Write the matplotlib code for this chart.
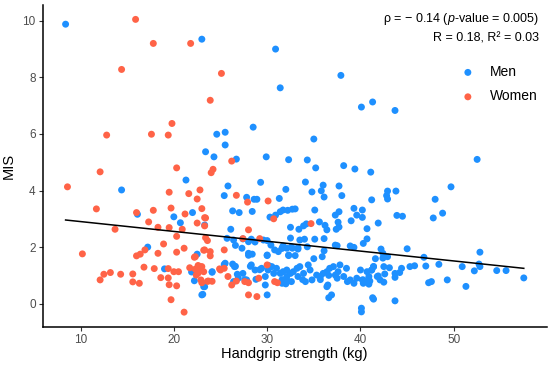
import numpy as np
import matplotlib
matplotlib.use("Agg")
import matplotlib.pyplot as plt

plt.rcParams['font.family'] = ['Liberation Sans', 'DejaVu Sans']
plt.rcParams['mathtext.fontset'] = 'custom'
plt.rcParams['mathtext.rm'] = 'Liberation Sans'
plt.rcParams['mathtext.it'] = 'Liberation Sans:italic'

# men: (handgrip kg, MIS)
men = [
    (8.4, 9.88), (23.0, 9.35), (30.9, 9.0), (37.9, 8.07), (31.4, 7.63), (40.1, 6.95), (41.3, 7.13), (43.7, 6.83),
    (24.6, 5.99), (23.4, 5.37), (24.3, 5.19), (28.5, 6.24), (25.5, 6.06), (25.5, 5.61), (35.0, 5.82), (26.7, 5.11),
    (29.9, 5.19), (32.3, 5.09), (34.3, 5.08), (35.2, 4.80), (38.2, 4.88), (39.4, 4.76),
    (52.5, 5.10), (41.1, 4.65), (49.7, 4.13), (42.9, 3.98), (43.8, 3.98), (42.8, 3.82), (42.9, 3.70), (41.2, 3.67),
    (48.0, 3.69), (40.2, 3.31), (40.2, 3.05), (43.9, 3.12), (44.5, 3.09), (48.8, 3.20), (47.8, 3.03), (41.9, 2.85),
    (40.7, 2.65), (40.7, 2.29), (40.3, 2.13), (45.0, 1.94), (42.2, 1.93), (42.4, 1.78), (42.9, 1.66), (41.6, 1.59),
    (42.4, 1.61), (46.8, 1.64), (52.8, 1.82), (52.7, 1.40), (52.8, 1.31), (52.2, 1.16), (54.6, 1.17), (55.6, 1.17),
    (57.5, 0.91),
    (40.7, 1.13), (41.4, 1.31), (41.2, 1.19), (42.5, 1.31), (43.1, 1.27), (42.6, 1.05), (43.7, 1.07), (43.7, 0.93),
    (44.2, 1.10), (44.4, 1.25), (45.3, 1.31), (45.8, 1.34), (47.0, 1.33), (48.4, 1.39), (50.9, 1.31), (40.2, 0.84),
    (40.5, 0.78), (41.0, 0.80), (40.3, 0.72), (40.9, 0.69), (41.9, 0.98), (42.1, 0.84), (42.5, 0.76), (47.3, 0.74),
    (47.6, 0.78), (49.3, 0.84), (51.3, 0.61), (41.3, 0.21), (41.4, 0.16), (43.7, 0.10), (40.1, -0.29),
    (14.4, 4.02), (21.3, 4.37), (16.1, 3.16), (20.0, 3.07), (22.0, 3.22), (20.7, 2.86), (23.3, 2.78), (17.2, 2.00),
    (22.5, 1.75), (19.0, 1.23), (21.9, 1.12), (24.1, 1.11), (22.2, 0.81), (23.3, 0.60), (23.1, 0.33),
    (29.3, 4.29), (34.1, 4.30), (25.8, 4.16), (32.0, 4.04), (34.8, 3.95), (35.8, 3.99), (36.0, 4.19), (37.7, 4.16),
    (38.0, 3.82), (36.1, 3.77), (25.4, 3.82), (27.8, 3.76), (28.6, 3.69), (28.9, 3.69), (31.3, 3.72),
    (26.3, 3.28), (27.0, 3.22), (28.4, 3.26), (30.3, 3.06), (30.9, 3.13), (31.4, 3.25), (31.7, 3.31), (32.2, 3.30),
    (32.7, 3.34), (33.0, 3.35), (35.1, 3.31), (37.3, 3.13), (37.7, 3.25), (39.3, 3.37), (39.6, 3.13),
    (32.5, 2.70), (33.4, 2.63), (33.9, 2.75), (34.2, 2.82), (35.6, 2.89), (36.2, 2.77), (36.4, 2.61), (37.4, 2.63),
    (37.6, 2.88), (37.7, 2.71), (39.0, 2.93), (26.1, 2.63),
    (25.7, 2.31), (26.4, 2.25), (26.6, 2.06), (27.4, 2.29), (28.0, 2.19), (28.3, 2.28), (28.7, 2.18), (29.6, 2.25),
    (30.0, 2.23), (30.4, 2.07), (32.5, 2.32), (33.5, 2.25), (34.0, 2.28), (32.7, 1.96), (33.3, 1.93), (31.7, 2.04),
    (31.2, 1.84), (31.6, 1.96), (34.3, 2.01), (35.1, 2.28), (36.1, 2.30), (36.1, 1.87), (35.9, 1.66), (37.5, 2.05),
    (38.9, 2.04), (39.3, 1.99),
    (28.0, 1.71), (28.4, 1.75), (30.0, 1.70), (32.3, 1.70), (33.0, 1.70), (35.0, 1.59),
    (27.3, 1.96), (28.0, 1.78), (30.0, 1.72), (30.8, 1.90), (31.6, 1.96), (24.1, 1.13), (25.5, 1.43), (26.5, 1.31),
    (26.9, 0.90), (27.4, 1.07), (27.8, 0.84), (28.3, 1.37), (28.7, 1.19), (29.4, 1.25), (29.8, 0.96), (30.1, 1.19),
    (30.5, 1.31), (31.0, 1.25), (31.4, 1.07), (31.7, 1.13), (32.1, 0.96), (29.8, 0.66), (31.6, 0.72), (23.2, 0.60),
    (23.0, 0.31), (30.0, 0.31),
    (32.1, 1.96), (32.6, 2.01), (33.3, 1.98), (32.3, 1.72), (37.3, 2.07),
    (32.1, 1.19), (32.5, 1.07), (32.8, 1.13), (33.2, 1.25), (33.5, 1.31), (33.3, 0.96), (33.9, 1.07), (34.1, 0.78),
    (34.4, 1.37), (34.6, 1.19), (34.8, 0.84), (35.3, 1.01), (35.7, 0.96), (36.0, 1.07), (36.4, 1.13), (36.7, 1.25),
    (37.1, 1.31), (37.3, 1.01), (37.5, 0.90), (37.8, 1.37), (37.6, 1.13), (38.2, 0.96), (38.5, 1.25), (38.9, 0.84),
    (39.3, 0.72), (39.6, 0.90), (40.0, 1.19), (40.3, 0.84), (40.5, 0.78), (40.9, 0.96), (41.2, 1.19), (41.4, 1.31),
    (41.8, 0.96), (32.1, 0.84), (32.6, 0.78), (36.4, 0.60), (36.9, 0.31), (36.6, 0.21), (40.1, -0.16),
    (25.4, 1.39), (26.3, 1.40), (26.6, 1.32), (26.8, 1.04), (26.4, 0.78), (27.6, 0.85), (28.2, 1.32), (28.8, 0.86),
    (29.2, 1.20), (30.2, 1.34), (30.7, 1.07), (31.6, 0.85), (32.0, 0.70), (33.8, 0.85), (35.7, 0.85), (36.6, 1.00),
    (38.6, 0.78), (36.5, 0.66),
]

women = [
    (15.9, 10.05), (17.8, 9.20), (21.8, 9.20), (14.4, 8.28), (25.1, 8.14), (23.9, 7.19), (19.8, 6.37), (12.8, 5.96),
    (17.6, 5.99), (19.4, 5.96),
    (26.2, 5.04), (20.3, 4.80), (12.1, 4.66), (24.2, 4.75), (24.0, 4.63), (8.6, 4.13), (19.5, 3.94), (21.6, 3.89),
    (22.8, 4.02), (22.5, 3.70),
    (11.7, 3.35), (16.0, 3.22), (17.8, 3.30), (19.7, 3.38), (21.2, 3.17), (23.0, 3.36), (23.4, 3.03), (17.3, 2.89),
    (22.5, 2.85), (18.3, 2.70),
    (19.5, 2.69), (20.9, 2.63), (13.7, 2.63), (20.3, 2.38), (23.4, 2.33), (23.6, 2.23), (18.9, 2.11), (21.1, 1.96),
    (16.9, 1.90), (16.4, 1.75),
    (16.0, 1.69), (10.2, 1.76), (18.3, 1.78), (20.3, 1.82), (23.2, 1.89), (22.2, 1.64), (23.9, 1.69), (16.8, 1.29),
    (17.9, 1.24), (19.4, 1.24),
    (20.0, 1.13), (20.5, 1.13), (21.7, 1.27), (22.3, 1.22), (22.6, 1.35), (22.9, 1.30), (22.7, 1.18), (22.6, 1.08),
    (24.9, 1.23), (13.2, 1.10),
    (12.5, 1.04), (12.1, 0.84), (14.3, 1.04), (15.6, 1.05), (15.6, 0.77), (16.3, 0.72), (18.6, 0.92), (19.4, 0.91),
    (19.5, 0.67), (20.3, 0.63),
    (22.9, 0.84), (23.0, 0.74), (23.6, 0.79), (24.1, 0.79), (19.7, 0.14), (21.1, -0.30),
    (26.7, 3.83), (27.9, 3.59), (30.1, 3.63), (30.7, 3.00), (34.7, 2.83), (28.0, 2.61), (27.4, 2.30), (29.2, 2.30),
    (23.3, 3.04), (23.3, 2.75),
    (23.3, 1.90), (23.9, 1.84), (25.4, 1.90), (23.0, 1.31), (22.4, 1.01), (23.2, 1.13), (23.7, 0.80), (25.0, 1.19),
    (25.4, 1.25), (25.8, 0.96), (26.2, 0.66), (26.7, 0.80), (28.0, 0.31), (28.9, 0.25), (27.6, 0.78), (29.1, 0.90),
    (30.8, 0.78), (30.0, 1.37), (22.3, 1.66), (28.0, 0.74), (31.1, 0.74),
]

# regression line
fit_intercept = 3.25
fit_slope = -0.0348

x_ticks = [10, 20, 30, 40, 50]
y_ticks = [0, 2, 4, 6, 8, 10]

men = np.array(men)
women = np.array(women)
all_x = np.concatenate([men[:, 0], women[:, 0]])

fig = plt.figure(figsize=(5.5, 3.65), dpi=100)
ax = fig.add_axes([0.0776, 0.1047, 0.9164, 0.8823])

ax.scatter(men[:, 0], men[:, 1], s=25, color='#1E90FF', edgecolors='none', label='Men', zorder=2)
ax.scatter(women[:, 0], women[:, 1], s=25, color='#FF6347', edgecolors='none', label='Women', zorder=2)

xl = np.array([all_x.min(), all_x.max()])
ax.plot(xl, fit_intercept + fit_slope * xl, color='black', lw=1.1, zorder=3)

ax.margins(0.05)
ax.set_xticks(x_ticks)
ax.set_yticks(y_ticks)
for s in ['top', 'right']:
    ax.spines[s].set_visible(False)
for s in ['left', 'bottom']:
    ax.spines[s].set_linewidth(1.1)
ax.tick_params(labelsize=8.5, labelcolor='#4D4D4D', color='#333333', length=3, width=0.8, pad=2)
ax.set_xlabel('Handgrip strength (kg)', fontsize=10.5, labelpad=1)
ax.set_ylabel('MIS', fontsize=10.5, labelpad=5)

ax.text(0.985, 0.955, r'ρ = − 0.14 ($\it{p}$-value = 0.005)', transform=ax.transAxes,
        ha='right', va='center', fontsize=9)
ax.text(0.985, 0.895, 'R = 0.18, R² = 0.03', transform=ax.transAxes,
        ha='right', va='center', fontsize=9)

ax.legend(loc='upper left', bbox_to_anchor=(0.805, 0.83), frameon=False, fontsize=10,
          handletextpad=0.6, labelspacing=0.75, markerscale=1.0, borderaxespad=0)

fig.savefig('out.png', dpi=100)
